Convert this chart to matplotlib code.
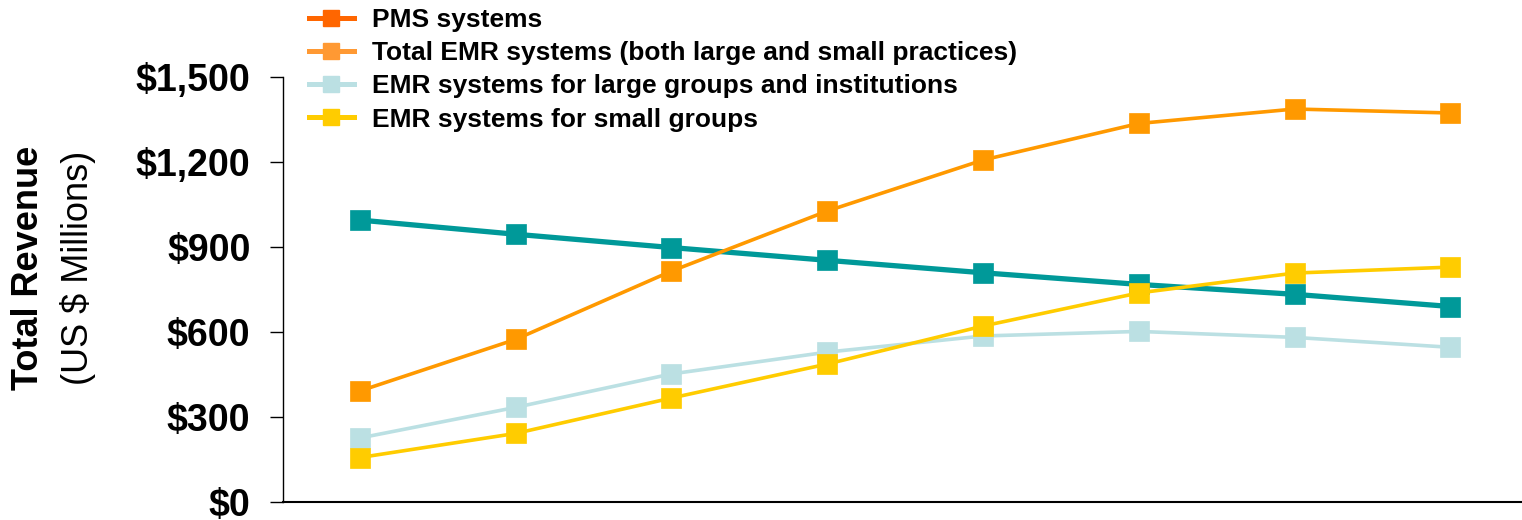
import matplotlib
matplotlib.use("Agg")
import matplotlib.pyplot as plt
import matplotlib.ticker as ticker
from matplotlib.lines import Line2D

plt.rcParams['font.family'] = ['Liberation Sans', 'DejaVu Sans']

# eight yearly points, no x labels in the original
xpos = [0, 1, 2, 3, 4, 5, 6, 7]
pms = [995, 945, 898, 853, 809, 768, 733, 690]
emr_total = [392, 574, 815, 1027, 1207, 1336, 1387, 1373]
emr_large = [226, 334, 452, 529, 586, 602, 581, 546]
emr_small = [157, 242, 367, 487, 621, 738, 808, 829]

labels = ["PMS systems",
          "Total EMR systems (both large and small practices)",
          "EMR systems for large groups and institutions",
          "EMR systems for small groups"]
line_cols = ["#009999", "#FF9900", "#BBE0E3", "#FFCC00"]
legend_cols = ["#FF6600", "#FF9933", "#BBE0E3", "#FFCC00"]
yticks = [0, 300, 600, 900, 1200, 1500]

fig = plt.figure(figsize=(15.22, 5.2), dpi=100)
ax = fig.add_axes([283/1522, 18/520, 1 - 283/1522, (502-77)/520])

series = [pms, emr_total, emr_large, emr_small]
for i, vals in enumerate(series):
    if i == 0:
        ms, lw = 15, 3.8
    else:
        ms, lw = 14, 2.6
    ax.plot(xpos, vals, color=line_cols[i], lw=lw, marker='s', ms=ms,
            mec=line_cols[i], mew=0.5, clip_on=False, zorder=3 + i)

ax.set_xlim(-0.494, 7.46)
ax.set_ylim(0, 1500)
ax.set_xticks([])
ax.set_yticks(yticks)
ax.yaxis.set_major_formatter(ticker.FuncFormatter(lambda v, p: "${:,.0f}".format(v)))
ax.tick_params(axis='y', direction='out', length=9.5, width=1.0, pad=14,
               labelsize=27)
for t in ax.get_yticklabels():
    t.set_fontweight('bold')

ax.spines['top'].set_visible(False)
ax.spines['right'].set_visible(False)
ax.spines['left'].set_linewidth(1.0)
ax.spines['bottom'].set_linewidth(1.5)

fig.text(29/1522, 1 - 268/520, "Total Revenue", rotation=90, ha='center',
         va='center', fontsize=26, fontweight='bold')
fig.text(78/1522, 1 - 268/520, "(US $ Millions)", rotation=90, ha='center',
         va='center', fontsize=26)

handles = [Line2D([], [], color=c, lw=3.6, marker='s', ms=12, mec=c)
           for c in legend_cols]
leg = ax.legend(handles, labels, loc='upper left',
                bbox_to_anchor=(309/1522, 1 - 8/520), bbox_transform=fig.transFigure,
                frameon=False, borderpad=0, borderaxespad=0, handlelength=1.7,
                handletextpad=0.68, labelspacing=0.35, prop={'size': 19, 'weight': 'bold'})

fig.savefig("out.png", dpi=100)
